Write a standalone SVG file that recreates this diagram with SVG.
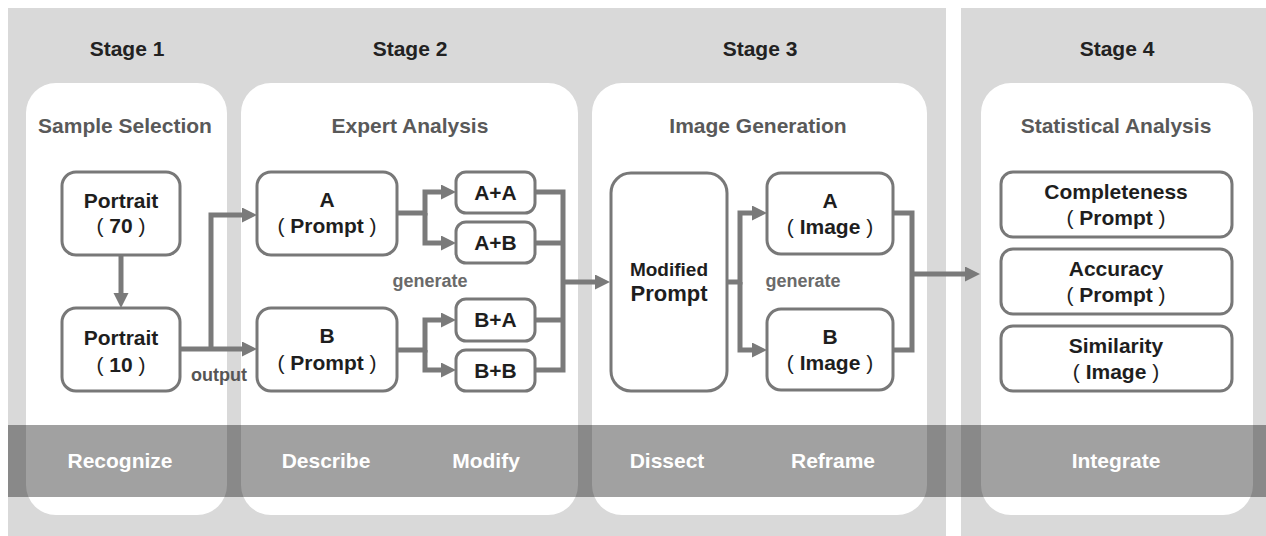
<svg xmlns="http://www.w3.org/2000/svg" width="1266" height="536" viewBox="0 0 1266 536">
  <defs>
    <style>
      text { font-family: "Liberation Sans", Arial, sans-serif; font-weight: bold; text-anchor: middle; }
      .stage { font-size: 21px; fill: #222; }
      .ptitle { font-size: 21px; fill: #595959; }
      .node { fill: #fff; stroke: #787878; stroke-width: 3; }
      .ntext { font-size: 21px; fill: #1e1e1e; }
      .pr { font-weight: normal; }
      .panel { fill: #fff; }
      .band { fill: #000; fill-opacity: 0.37; }
      .btext { font-size: 21px; fill: #fff; }
      .conn { fill: none; stroke: #7a7a7a; stroke-width: 5; }
      .lbl { font-size: 18px; fill: #6a6a6a; }
      .out { fill: #555; }
    </style>
    <marker id="arrow" markerUnits="userSpaceOnUse" markerWidth="16" markerHeight="16" refX="4" refY="7.5" orient="auto">
      <path d="M0,0 L15,7.5 L0,15 z" fill="#7a7a7a"/>
    </marker>
  </defs>

  <!-- background areas -->
  <rect x="0" y="0" width="1266" height="536" fill="#fff"/>
  <rect x="8" y="8" width="938" height="528" fill="#d9d9d9"/>
  <rect x="961" y="8" width="305" height="528" fill="#d9d9d9"/>

  <!-- stage panels -->
  <g id="panels">
    <rect class="panel" x="26" y="83" width="201" height="432" rx="30"/>
    <rect class="panel" x="241" y="83" width="337" height="432" rx="30"/>
    <rect class="panel" x="592" y="83" width="335" height="432" rx="30"/>
    <rect class="panel" x="981" y="83" width="272" height="432" rx="30"/>
  </g>

  <!-- stage headings -->
  <g id="headings">
    <text class="stage" x="127" y="56">Stage 1</text>
    <text class="stage" x="410" y="56">Stage 2</text>
    <text class="stage" x="760" y="56">Stage 3</text>
    <text class="stage" x="1117" y="56">Stage 4</text>
    <text class="ptitle" x="125" y="133">Sample Selection</text>
    <text class="ptitle" x="410" y="133">Expert Analysis</text>
    <text class="ptitle" x="758" y="133">Image Generation</text>
    <text class="ptitle" x="1116" y="133">Statistical Analysis</text>
  </g>

  <!-- connectors -->
  <g id="connectors">
    <path class="conn" d="M121,255 V297" marker-end="url(#arrow)"/>
    <path class="conn" d="M180,349 H246" marker-end="url(#arrow)"/>
    <path class="conn" d="M211,349 V215 H246" marker-end="url(#arrow)"/>
    <path class="conn" d="M397,213 H425 V192 H445" marker-end="url(#arrow)"/>
    <path class="conn" d="M425,213 V243 H445" marker-end="url(#arrow)"/>
    <path class="conn" d="M397,350 H425 V320 H445" marker-end="url(#arrow)"/>
    <path class="conn" d="M425,350 V370 H445" marker-end="url(#arrow)"/>
    <path class="conn" d="M535,192 H563 V370 H535"/>
    <path class="conn" d="M535,243 H563 M535,320 H563"/>
    <path class="conn" d="M563,282 H599" marker-end="url(#arrow)"/>
    <path class="conn" d="M727,282 H740 V213 H756" marker-end="url(#arrow)"/>
    <path class="conn" d="M740,282 V350 H756" marker-end="url(#arrow)"/>
    <path class="conn" d="M893,213 H912 V350 H893"/>
    <path class="conn" d="M912,274 H969" marker-end="url(#arrow)"/>
    <text class="lbl out" x="219" y="381">output</text>
    <text class="lbl" x="430" y="287">generate</text>
    <text class="lbl" x="803" y="287">generate</text>
  </g>

  <!-- stage 1 nodes -->
  <g id="portrait70">
    <rect class="node" x="62" y="172" width="118" height="83" rx="14"/>
    <text class="ntext" x="121" y="208">Portrait</text>
    <text class="ntext" x="121" y="233"><tspan class="pr">(</tspan> 70 <tspan class="pr">)</tspan></text>
  </g>
  <g id="portrait10">
    <rect class="node" x="62" y="308" width="118" height="83" rx="14"/>
    <text class="ntext" x="121" y="345">Portrait</text>
    <text class="ntext" x="121" y="372"><tspan class="pr">(</tspan> 10 <tspan class="pr">)</tspan></text>
  </g>

  <!-- stage 2 nodes -->
  <g id="promptA">
    <rect class="node" x="257" y="172" width="140" height="83" rx="14"/>
    <text class="ntext" x="327" y="207">A</text>
    <text class="ntext" x="327" y="233"><tspan class="pr">(</tspan> Prompt <tspan class="pr">)</tspan></text>
  </g>
  <g id="promptB">
    <rect class="node" x="257" y="308" width="140" height="83" rx="14"/>
    <text class="ntext" x="327" y="343">B</text>
    <text class="ntext" x="327" y="370"><tspan class="pr">(</tspan> Prompt <tspan class="pr">)</tspan></text>
  </g>
  <g id="AA">
    <rect class="node" x="456" y="172" width="79" height="41" rx="10"/>
    <text class="ntext" x="495.5" y="200">A+A</text>
  </g>
  <g id="AB">
    <rect class="node" x="456" y="222" width="79" height="41" rx="10"/>
    <text class="ntext" x="495.5" y="250">A+B</text>
  </g>
  <g id="BA">
    <rect class="node" x="456" y="299" width="79" height="42" rx="10"/>
    <text class="ntext" x="495.5" y="327">B+A</text>
  </g>
  <g id="BB">
    <rect class="node" x="456" y="350" width="79" height="41" rx="10"/>
    <text class="ntext" x="495.5" y="378">B+B</text>
  </g>

  <!-- stage 3 nodes -->
  <g id="modified">
    <rect class="node" x="611" y="173" width="116" height="218" rx="20"/>
    <text class="ntext" x="669" y="276" style="font-size:19px">Modified</text>
    <text class="ntext" x="669" y="301" style="font-size:22px">Prompt</text>
  </g>
  <g id="imageA">
    <rect class="node" x="767" y="173" width="126" height="81" rx="14"/>
    <text class="ntext" x="830" y="208">A</text>
    <text class="ntext" x="830" y="234"><tspan class="pr">(</tspan> Image <tspan class="pr">)</tspan></text>
  </g>
  <g id="imageB">
    <rect class="node" x="767" y="309" width="126" height="81" rx="14"/>
    <text class="ntext" x="830" y="344">B</text>
    <text class="ntext" x="830" y="370"><tspan class="pr">(</tspan> Image <tspan class="pr">)</tspan></text>
  </g>

  <!-- stage 4 nodes -->
  <g id="completeness">
    <rect class="node" x="1001" y="172" width="231" height="65" rx="12"/>
    <text class="ntext" x="1116" y="199">Completeness</text>
    <text class="ntext" x="1116" y="225"><tspan class="pr">(</tspan> Prompt <tspan class="pr">)</tspan></text>
  </g>
  <g id="accuracy">
    <rect class="node" x="1001" y="249" width="231" height="65" rx="12"/>
    <text class="ntext" x="1116" y="276">Accuracy</text>
    <text class="ntext" x="1116" y="302"><tspan class="pr">(</tspan> Prompt <tspan class="pr">)</tspan></text>
  </g>
  <g id="similarity">
    <rect class="node" x="1001" y="326" width="231" height="65" rx="12"/>
    <text class="ntext" x="1116" y="353">Similarity</text>
    <text class="ntext" x="1116" y="379"><tspan class="pr">(</tspan> Image <tspan class="pr">)</tspan></text>
  </g>

  <!-- action band -->
  <g id="band">
    <rect class="band" x="8" y="425" width="1258" height="72"/>
    <text class="btext" x="120" y="468">Recognize</text>
    <text class="btext" x="326" y="468">Describe</text>
    <text class="btext" x="486" y="468">Modify</text>
    <text class="btext" x="667" y="468">Dissect</text>
    <text class="btext" x="833" y="468">Reframe</text>
    <text class="btext" x="1116" y="468">Integrate</text>
  </g>
</svg>
